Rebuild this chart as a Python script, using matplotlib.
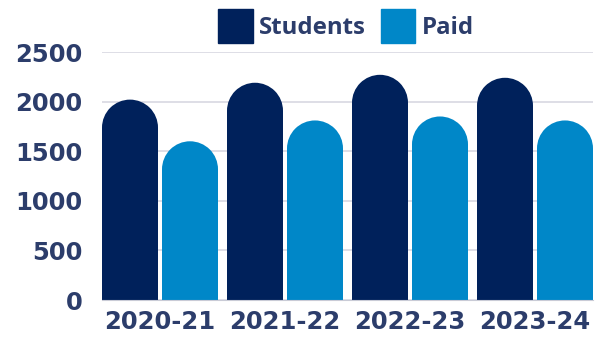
import matplotlib.pyplot as plt
from matplotlib.patches import Ellipse, Patch
import numpy as np

plt.rcParams.update({'font.family': ['DejaVu Sans'], 'font.weight': 'bold'})

years = ['2020-21', '2021-22', '2022-23', '2023-24']
students = [2020, 2190, 2270, 2240]
paid = [1600, 1810, 1850, 1810]

navy = '#00215B'
blue = '#0087C8'
txt = '#2C3D6B'

fig = plt.figure(figsize = (6.02, 3.37), dpi = 100)
ax = fig.add_axes([102 / 602, 37 / 337, 491 / 602, 248 / 337])

x = np.arange(len(years))
w = 0.448
off = 0.24
ax.set_xlim(-0.464, 3.464)
ax.set_ylim(0, 2500)

# radius of the rounded caps, converted into data units for each axis
px_x = 491 / (3.464 + 0.464)
px_y = 248 / 2500
ry = (w / 2) * px_x / px_y

for vals, dx, col in ((students, -off, navy), (paid, off, blue)):
    vals = np.array(vals, dtype = float)
    ax.bar(x + dx, vals - ry, width = w, color = col, linewidth = 0, zorder = 3)
    for xi, v in zip(x + dx, vals):
        ax.add_patch(Ellipse((xi, v - ry), w, 2 * ry, color = col, linewidth = 0, zorder = 3))

ax.set_yticks([0, 500, 1000, 1500, 2000, 2500])
ax.set_xticks(x)
ax.set_xticklabels(years)
ax.yaxis.grid(True, color = '#D8D8E2', linewidth = 1.2, zorder = 0)
ax.tick_params(axis = 'both', length = 0, labelcolor = txt, labelsize = 17.5)
ax.tick_params(axis = 'y', pad = 14)
ax.tick_params(axis = 'x', pad = 7)
for s in ('top', 'right', 'left'):
    ax.spines[s].set_visible(False)
ax.spines['bottom'].set_color('#C9CBD6')
ax.spines['bottom'].set_zorder(4)

handles = [Patch(color = navy), Patch(color = blue)]
leg = ax.legend(handles, ['Students', 'Paid'], loc = 'center', ncol = 2,
                frameon = False, handlelength = 1.45, handleheight = 1.8, handletextpad = 0.25,
                columnspacing = 0.6, borderaxespad = 0,
                prop = {'family': 'Open Sans', 'weight': 'bold', 'size': 17.3})
leg.set_bbox_to_anchor((346 / 602, 1 - 26 / 337), transform = fig.transFigure)
for t in leg.get_texts():
    t.set_color(txt)

fig.savefig('out.png', dpi = 100)
